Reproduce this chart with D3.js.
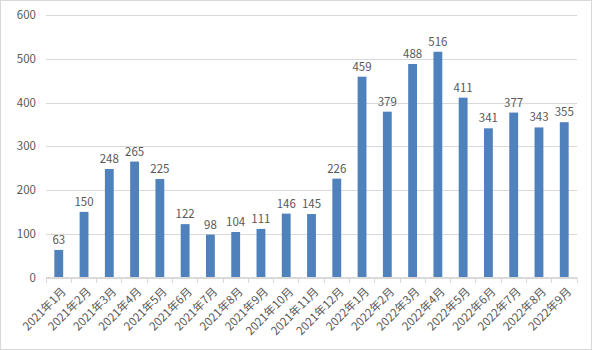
<!DOCTYPE html>
<html>
<head>
<meta charset="utf-8">
<script src="https://cdn.jsdelivr.net/npm/d3@7/dist/d3.min.js"></script>
<style>
  html, body { margin: 0; padding: 0; background: #fff; }
  svg { display: block; }
  text { font-family: "Noto Sans CJK SC", "Noto Sans", sans-serif; fill: #595959; }
</style>
</head>
<body>
<svg id="chart" width="592" height="350"></svg>
<script>
// Monthly counts, Jan 2021 – Sep 2022
const months = ["2021年1月","2021年2月","2021年3月","2021年4月","2021年5月","2021年6月","2021年7月",
  "2021年8月","2021年9月","2021年10月","2021年11月","2021年12月","2022年1月","2022年2月",
  "2022年3月","2022年4月","2022年5月","2022年6月","2022年7月","2022年8月","2022年9月"];
const counts = [63,150,248,265,225,122,98,104,111,146,145,226,459,379,488,516,411,341,377,343,355];
const yTicks = [0,100,200,300,400,500,600];

const W = 592, H = 350;
const plot = { left: 46, right: 577, top: 15, bottom: 277.5 };

const svg = d3.select("#chart");

// outer frame
svg.append("rect")
  .attr("x", 0.5).attr("y", 0.5).attr("width", W - 1).attr("height", H - 1)
  .attr("fill", "#fff").attr("stroke", "#d9d9d9");

const x = d3.scaleBand().domain(months).range([plot.left, plot.right]).paddingInner(0.65).paddingOuter(0.33);
const y = d3.scaleLinear().domain([0, 600]).range([plot.bottom, plot.top]);

// horizontal gridlines + y labels
const yAxis = svg.append("g").attr("transform", `translate(${plot.left},0)`)
  .call(d3.axisLeft(y).tickValues(yTicks).tickSize(-(plot.right - plot.left)).tickPadding(10));
yAxis.select(".domain").remove();
yAxis.selectAll("line").attr("stroke", "#d9d9d9").attr("shape-rendering", "crispEdges");
yAxis.selectAll("text").attr("font-size", 11.5).style("fill", "#595959");

// bars
svg.append("g").selectAll("rect").data(counts).join("rect")
  .attr("x", (d, i) => x(months[i]))
  .attr("y", d => y(d))
  .attr("width", x.bandwidth())
  .attr("height", d => y(0) - y(d))
  .attr("fill", "#4f81bd");

// value labels
svg.append("g").selectAll("text").data(counts).join("text")
  .attr("x", (d, i) => x(months[i]) + x.bandwidth() / 2)
  .attr("y", d => y(d) - 6)
  .attr("text-anchor", "middle")
  .attr("font-size", 11.5)
  .text(d => d);

// x axis with category-boundary ticks
const xg = svg.append("g").attr("transform", `translate(0,${plot.bottom})`);
xg.append("line").attr("x1", plot.left).attr("x2", plot.right)
  .attr("stroke", "#d9d9d9").attr("shape-rendering", "crispEdges");
const step = (plot.right - plot.left) / months.length;
xg.selectAll("line.tk").data(d3.range(months.length + 1)).join("line")
  .attr("class", "tk")
  .attr("x1", i => plot.left + i * step).attr("x2", i => plot.left + i * step)
  .attr("y1", 0).attr("y2", 5)
  .attr("stroke", "#d9d9d9").attr("shape-rendering", "crispEdges");

xg.selectAll("text").data(months).join("text")
  .attr("transform", d => `translate(${x(d) + x.bandwidth() / 2 + 5},12) rotate(-45)`)
  .attr("text-anchor", "end")
  .attr("dy", "0.35em")
  .attr("font-size", 11.5)
  .text(d => d);
</script>
</body>
</html>
